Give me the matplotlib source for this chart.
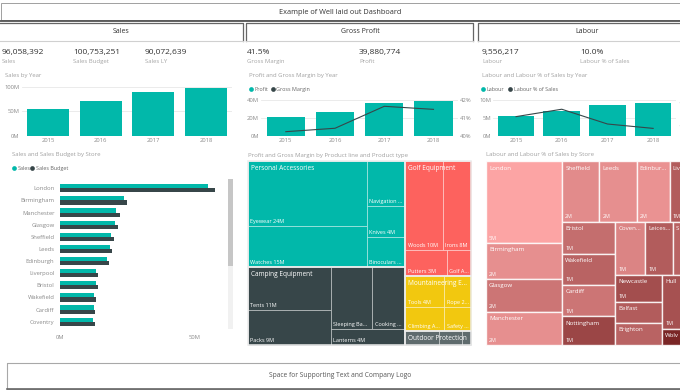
import matplotlib
matplotlib.use('Agg')
import matplotlib.pyplot as plt
from matplotlib.patches import Rectangle
from matplotlib.colors import LinearSegmentedColormap, Normalize

plt.rcParams['font.family'] = ['Open Sans', 'DejaVu Sans']

# Data
years = ['2015', '2016', '2017', '2018']
sales_by_year = [55.4, 70.4, 89.0, 97.0]        # M
profit_by_year = [21.4, 26.7, 36.7, 39.2]       # M
gross_margin = [40.24, 40.43, 41.65, 41.48]     # %
labour_by_year = [5.56, 7.0, 8.7, 9.25]         # M
labour_pct = [10.45, 10.77, 10.13, 9.94]        # %

stores = ['London', 'Birmingham', 'Manchester', 'Glasgow', 'Sheffield', 'Leeds',
          'Edinburgh', 'Liverpool', 'Bristol', 'Wakefield', 'Cardiff', 'Coventry']
store_sales = [55.2, 23.9, 21.0, 20.5, 19.0, 18.5, 17.5, 13.4, 13.4, 12.7, 12.7, 12.4]
store_budget = [57.8, 24.9, 22.3, 21.6, 20.0, 19.5, 18.3, 14.2, 14.1, 13.4, 13.2, 13.2]

kpis = [('96,058,392', 'Sales'), ('100,753,251', 'Sales Budget'), ('90,072,639', 'Sales LY'),
        ('41.5%', 'Gross Margin'), ('39,880,774', 'Profit'),
        ('9,556,217', 'Labour'), ('10.0%', 'Labour % of Sales')]

# profit treemap: product lines and product types (profit, M)
lines = ['Personal Accessories', 'Camping Equipment', 'Golf Equipment',
         'Mountaineering E...', 'Outdoor Protection']
line_colors = ['#01B8AA', '#374649', '#FD625E', '#F2C80F', '#5F6B6D']
types = [['Eyewear 24M', 'Watches 15M', 'Navigation ...', 'Knives 4M', 'Binoculars ...'],
         ['Tents 11M', 'Packs 9M', 'Sleeping Ba...', 'Cooking ...', 'Lanterns 4M'],
         ['Woods 10M', 'Irons 8M', 'Putters 3M', 'Golf A...'],
         ['Tools 4M', 'Climbing A...', 'Rope 2...', 'Safety ...'],
         ['', '', '']]
type_profit = [[24.0, 15.4, 5.4, 3.8, 3.6],
               [11.1, 9.1, 8.0, 6.4, 3.7],
               [10.4, 7.8, 3.4, 2.0],
               [3.8, 2.9, 2.6, 2.0],
               [1.5, 1.0, 0.4]]
type_strips = [[2, 1, 1, 1], [2, 2, 1], [2, 1, 1], [2, 1, 1], [1, 1, 1]]

# labour treemap by store (labour, M; labour % of sales for colour)
lab_stores = ['London', 'Birmingham', 'Glasgow', 'Manchester', 'Sheffield', 'Leeds',
              'Edinbur...', 'Liv', 'Bristol', 'Wakefield', 'Cardiff', 'Nottingham',
              'Coven...', 'Leices...', 'S', 'Newcastle', 'Belfast', 'Brighton',
              'Hull', 'Wolv']
lab_values = [4.92, 2.16, 1.98, 1.98, 1.78, 1.78, 1.59, 1.30, 1.34, 1.30, 1.30, 1.21,
              1.25, 1.17, 1.0, 1.0, 0.78, 0.82, 1.49, 0.44]
lab_pct = [9.0, 9.6, 10.3, 9.6, 9.7, 9.6, 9.5, 11.0, 10.5, 10.8, 10.3, 11.6,
           9.9, 11.0, 10.8, 11.4, 11.0, 10.8, 11.3, 12.5]
lab_strips = [4, 4, 4, 3, 3, 1, 1]

W, H = 680, 390
fig = plt.figure(figsize=(6.8, 3.9), dpi=100)
ax0 = fig.add_axes([0, 0, 1, 1])
ax0.set_xlim(0, W)
ax0.set_ylim(H, 0)
ax0.axis('off')

TEAL, DARK = '#01B8AA', '#374649'
TICK = '#8a8a8a'


def px_axes(x0, y0, x1, y1):
    a = fig.add_axes([x0 / W, 1 - y1 / H, (x1 - x0) / W, (y1 - y0) / H])
    a.patch.set_alpha(0)
    for s in a.spines.values():
        s.set_visible(False)
    a.tick_params(length=0, labelsize=4.2, labelcolor=TICK, pad=1.5)
    return a


def strips(values, x, y, w, h, counts):
    # squarified-style strips: each strip runs along the shorter side
    rects, i = [], 0
    for n in counts:
        chunk = values[i:i + n]
        s, rest = sum(chunk), sum(values[i:])
        if w >= h:
            cw = w * s / rest
            yy = y
            for v in chunk:
                rects.append((x, yy, cw, h * v / s))
                yy += h * v / s
            x, w = x + cw, w - cw
        else:
            ch = h * s / rest
            xx = x
            for v in chunk:
                rects.append((xx, y, w * v / s, ch))
                xx += w * v / s
            y, h = y + ch, h - ch
        i += n
    return rects


# frames
ax0.add_patch(Rectangle((0.5, 3), 679, 17, fill=False, ec='#a0a0a0', lw=0.7))
ax0.text(340, 12, 'Example of Well laid out Dashboard', fontsize=5.3, color='#333',
         ha='center', va='center')
ax0.plot([0, W], [20.5, 20.5], color='#555', lw=1.3)
for x0, x1, name, cx in [(-5, 243.3, 'Sales', 121), (246, 473.3, 'Gross Profit', 360),
                         (477.8, 696, 'Labour', 587)]:
    ax0.plot([x0, x0, x1, x1], [40.5, 23.3, 23.3, 40.5], color='#666', lw=0.9)
    ax0.plot([x0, x1], [40.7, 40.7], color='#d0d0d0', lw=0.8)
    ax0.text(cx, 31.8, name, fontsize=5, color='#333', ha='center', va='center')

ax0.add_patch(Rectangle((7, 363), 680, 26, fill=False, ec='#a8a8a8', lw=0.8))
ax0.plot([7, W], [388.6, 388.6], color='#666', lw=1.2)
ax0.text(340, 375.5, 'Space for Supporting Text and Company Logo', fontsize=4.8,
         color='#555', ha='center', va='center')

# KPI cards
kpi_x = [2, 73, 145, 247, 359, 482, 580]
for (val, lab), x in zip(kpis, kpi_x):
    ax0.text(x, 52.5, val, fontsize=6, color='#333', va='center')
    ax0.text(x, 61.8, lab, fontsize=4.3, color='#a5a5a5', va='center')

# chart titles
for x, y, t in [(5, 75, 'Sales by Year'), (249, 75, 'Profit and Gross Margin by Year'),
                (482, 75, 'Labour and Labour % of Sales by Year'),
                (12, 154.5, 'Sales and Sales Budget by Store'),
                (248, 155, 'Profit and Gross Margin by Product line and Product type'),
                (486, 154.5, 'Labour and Labour % of Sales by Store')]:
    ax0.text(x, y, t, fontsize=4.3, color='#a0a0a0', va='center')

# legends
for items, y in [([(251, 'Profit', TEAL), (273, 'Gross Margin', DARK)], 89.3),
                 ([(483, 'Labour', TEAL), (510, 'Labour % of Sales', DARK)], 89.3),
                 ([(14, 'Sales', TEAL), (32, 'Sales Budget', DARK)], 168.3)]:
    for x, t, c in items:
        ax0.plot(x, y, 'o', color=c, ms=3.4, mec='none')
        ax0.text(x + 3.5, y, t, fontsize=3.9, color='#666', va='center')

# Sales by Year
a = px_axes(21.7, 86.7, 232.4, 136)
xs = range(len(years))
a.bar(xs, sales_by_year, width=0.8, color=TEAL, zorder=2)
a.set_ylim(0, 100)
a.set_xlim(-0.5, 3.5)
a.set_yticks([0, 50, 100], ['0M', '50M', '100M'])
a.set_xticks(list(xs), years)
a.grid(axis='y', color='#e8e8e8', lw=0.6, zorder=0)

# Profit and Gross Margin by Year
a = px_axes(261.2, 100, 458.1, 136)
a.bar(xs, profit_by_year, width=0.78, color=TEAL, zorder=2)
a.set_ylim(0, 40)
a.set_xlim(-0.5, 3.5)
a.set_yticks([0, 20, 40], ['0M', '20M', '40M'])
a.set_xticks(list(xs), years)
a.grid(axis='y', color='#e8e8e8', lw=0.6, zorder=0)
b = a.twinx()
for s in b.spines.values():
    s.set_visible(False)
b.plot(xs, gross_margin, color=DARK, lw=0.8)
b.set_ylim(40, 42)
b.set_yticks([40, 41, 42], ['40%', '41%', '42%'])
b.tick_params(length=0, labelsize=4.2, labelcolor=TICK, pad=1.5)

# Labour and Labour % of Sales by Year (right axis labels run off the edge, as in the original)
a = px_axes(493.2, 100, 676, 136)
a.bar(xs, labour_by_year, width=0.8, color=TEAL, zorder=2)
a.set_ylim(0, 10)
a.set_xlim(-0.5, 3.5)
a.set_yticks([0, 5, 10], ['0M', '5M', '10M'])
a.set_xticks(list(xs), years)
a.grid(axis='y', color='#e8e8e8', lw=0.6, zorder=0)
b = a.twinx()
for s in b.spines.values():
    s.set_visible(False)
b.plot(xs, labour_pct, color=DARK, lw=0.8)
b.set_ylim(9.61, 11.17)
b.set_yticks([10, 11], ['10%', '11%'])
b.tick_params(length=0, labelsize=4.2, labelcolor=TICK, pad=1.5)

# Sales and Sales Budget by Store
a = px_axes(60, 182.2, 221.2, 327.8)
ys = range(len(stores))
a.barh([y - 0.17 for y in ys], store_sales, height=0.34, color=TEAL)
a.barh([y + 0.17 for y in ys], store_budget, height=0.34, color=DARK)
a.set_xlim(0, 60)
a.set_ylim(11.5, -0.5)
a.set_yticks(list(ys), stores)
a.set_xticks([0, 50], ['0M', '50M'])
a.tick_params(axis='y', pad=4)
a.tick_params(axis='x', pad=5)
ax0.add_patch(Rectangle((228, 179), 4.5, 150, color='#f1f1f1', lw=0))
ax0.add_patch(Rectangle((228, 179), 4.5, 86.5, color='#c6c6c6', lw=0))

# Profit treemap
totals = [sum(v) for v in type_profit]
for (gx, gy, gw, gh), name, col, labs, vals, cnt in zip(
        strips(totals, 248, 161, 223, 184, [2, 1, 1, 1]),
        lines, line_colors, types, type_profit, type_strips):
    for (x, y, w, h), lab in zip(strips(vals, gx, gy, gw, gh, cnt), labs):
        ax0.add_patch(Rectangle((x, y), w, h, fc=col, ec=(1, 1, 1, 0.35), lw=0.7))
        if lab:
            ax0.text(x + 2.5, y + h - 4.5, lab, fontsize=4, color='white', va='center')
    ax0.add_patch(Rectangle((gx, gy), gw, gh, fill=False, ec='#ececec', lw=1.1))
    ax0.text(gx + 3, gy + 7.3, name, fontsize=4.7, color='white', va='center')

# Labour treemap
cmap = LinearSegmentedColormap.from_list('lab', ['#FCA4A4', '#7A2626'])
norm = Normalize(9.0, 12.5)
for (x, y, w, h), name, v, p in zip(strips(lab_values, 486, 161, 211, 184, lab_strips),
                                    lab_stores, lab_values, lab_pct):
    ax0.add_patch(Rectangle((x, y), w, h, fc=cmap(norm(p)), ec=(1, 1, 1, 0.85), lw=1.0))
    ax0.text(x + 3, y + 7, name, fontsize=4.4, color='white', va='center')
    if h >= 24 and x + 10 < W:
        ax0.text(x + 3, y + h - 5, f'{round(v)}M', fontsize=3.9, color='white',
                 va='center')

fig.savefig('out.png', dpi=100)
